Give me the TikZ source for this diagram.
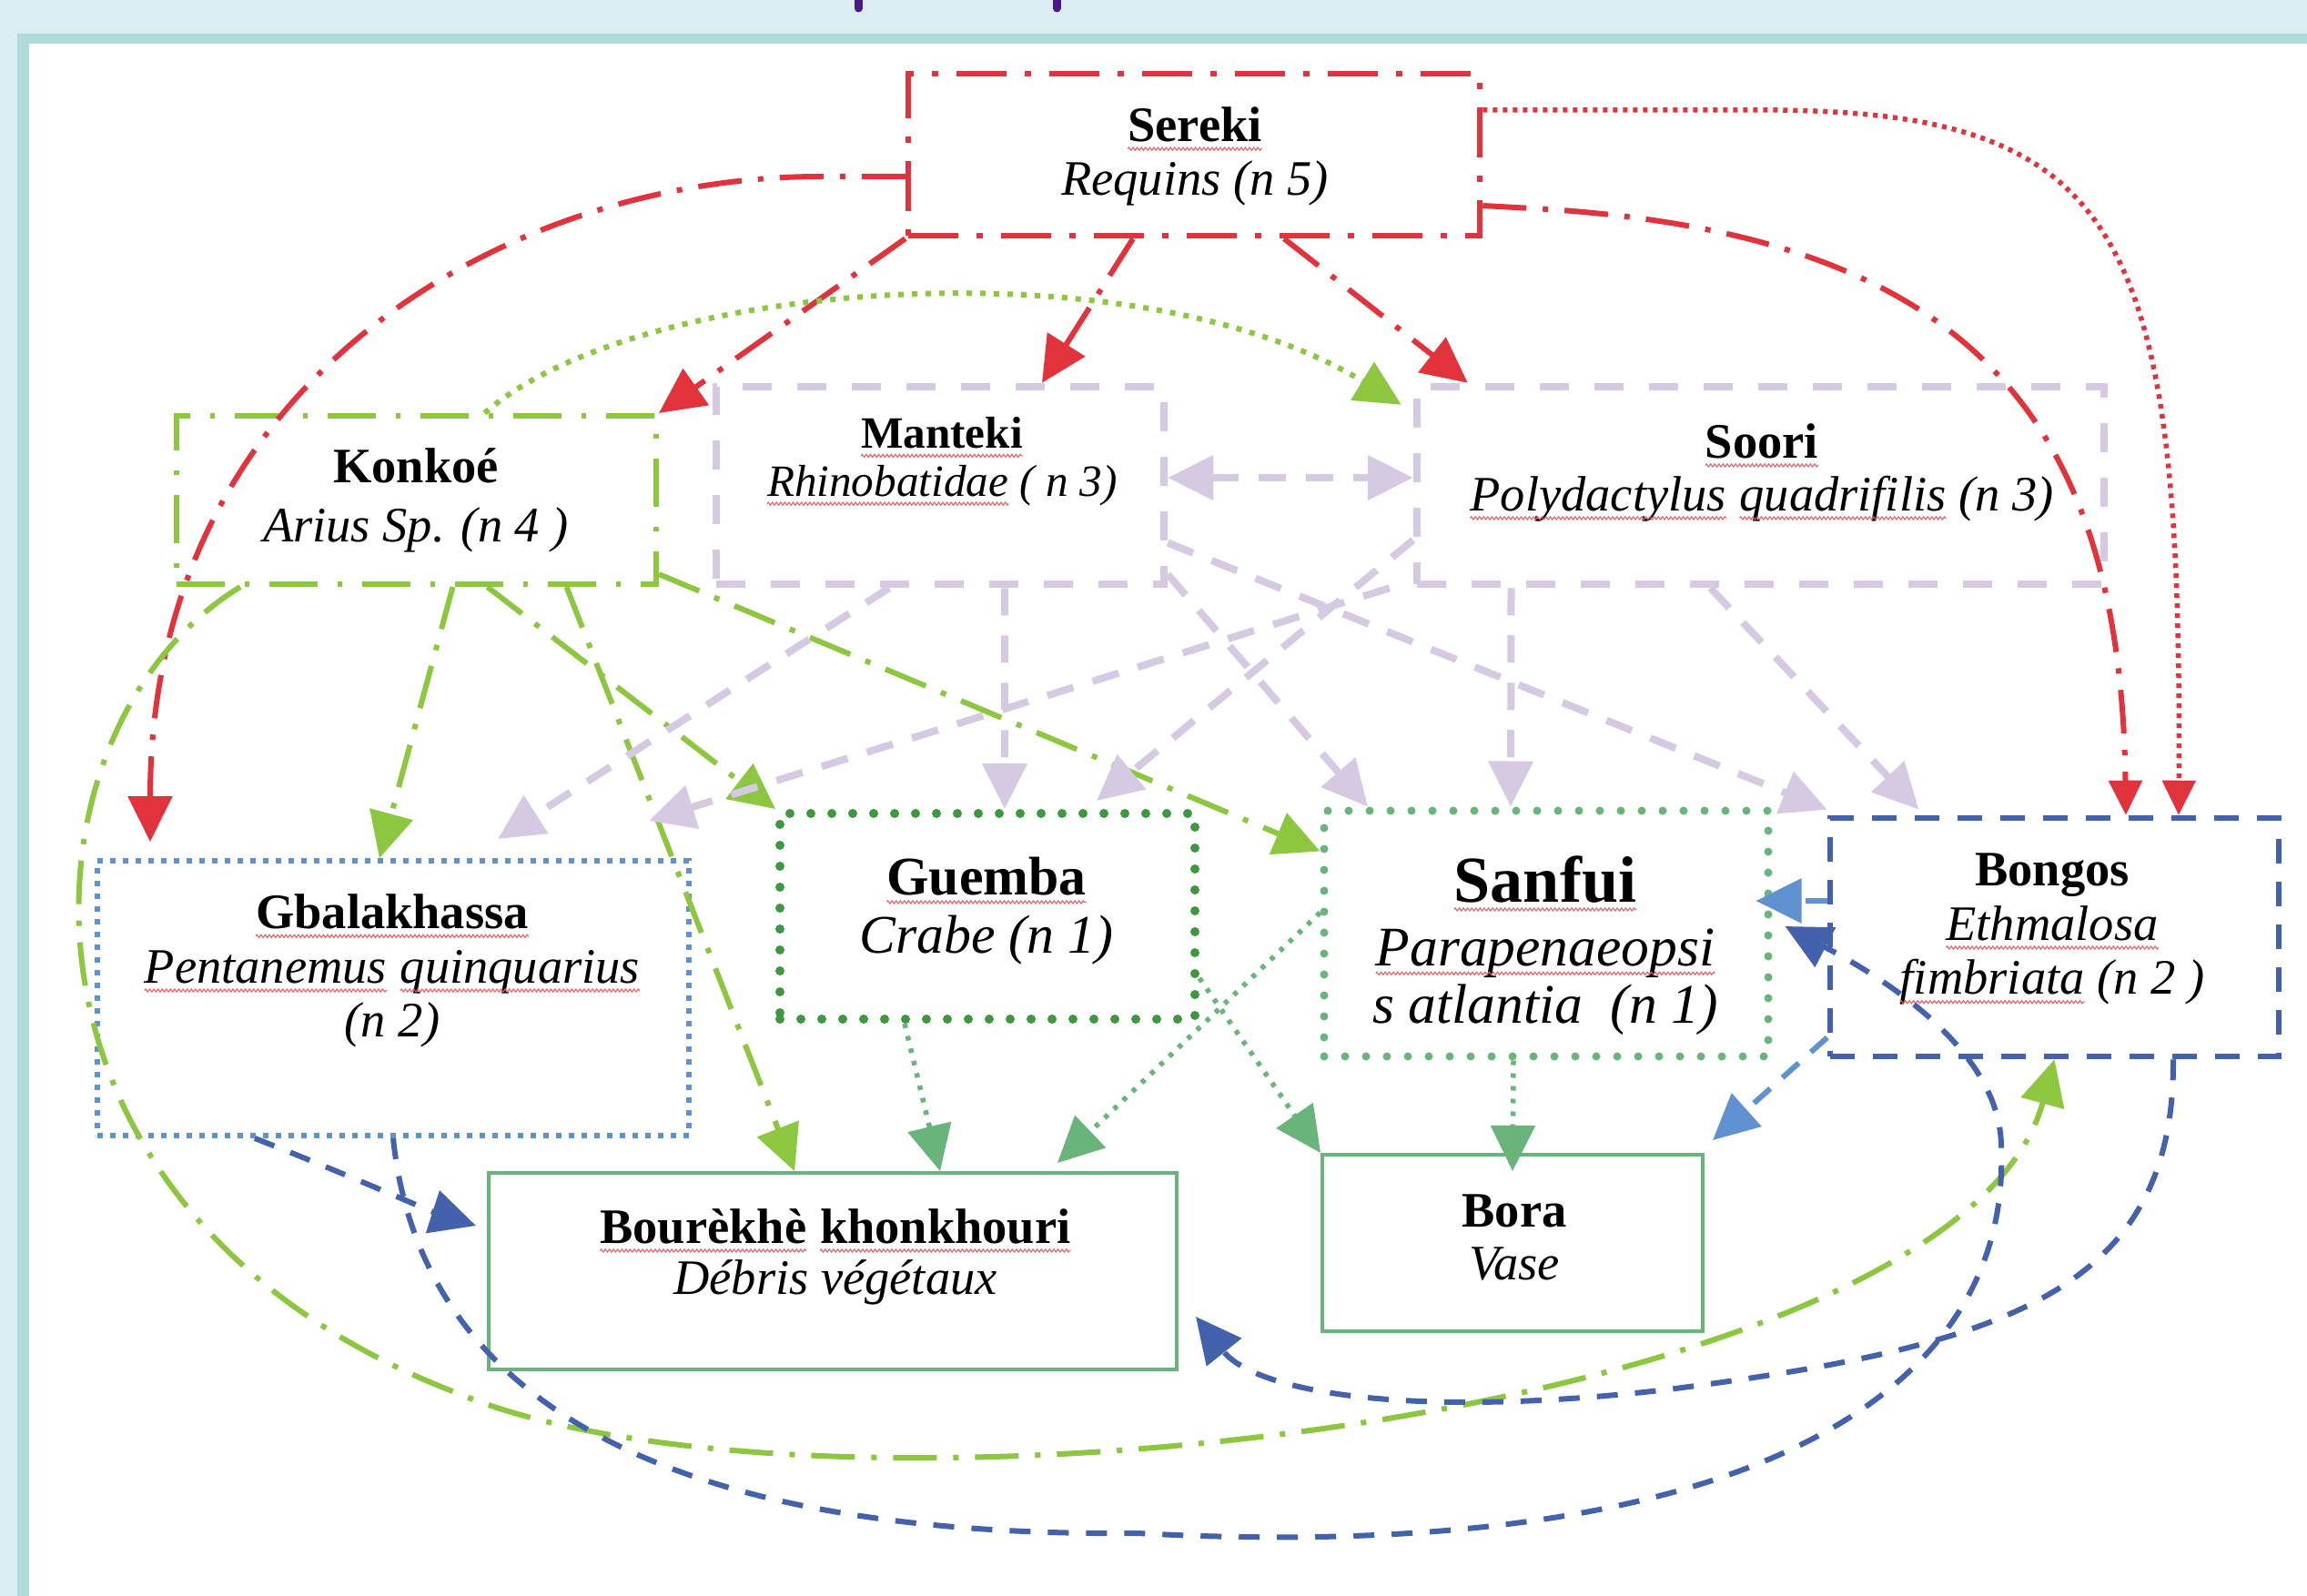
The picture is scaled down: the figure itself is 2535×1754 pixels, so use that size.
\documentclass[tikz,border=0pt]{standalone}
\usepackage{fontspec}
\setmainfont{Liberation Serif}
\usepackage{tikz}
\usetikzlibrary{arrows.meta,decorations.pathmorphing}

\definecolor{sred}{RGB}{226,50,60}
\definecolor{klime}{RGB}{141,198,63}
\definecolor{klilac}{RGB}{214,202,227}
\definecolor{ksky}{RGB}{96,146,210}
\definecolor{knavy}{RGB}{68,97,172}
\definecolor{kmoss}{RGB}{62,152,64}
\definecolor{ksea}{RGB}{104,180,122}
\definecolor{kpale}{RGB}{220,237,242}
\definecolor{kframe}{RGB}{174,219,219}
\definecolor{kink}{RGB}{75,25,135}

\newcommand{\squig}[1]{\tikz[baseline=(w.base)]{\node[font=,align=none,inner sep=0pt,outer sep=0pt] (w) {#1};
		\draw[sred!80,line width=0.3pt,decorate,decoration={zigzag,amplitude=0.45pt,segment length=1.3pt}] ([yshift=-2.4pt]w.base west) -- ([yshift=-2.4pt]w.base east);}}

\begin{document}
\begin{tikzpicture}[x=0.1mm,y=0.1mm,
		box/.style={rectangle,inner sep=0pt},
		redbox/.style={box,draw=sred,line width=0.65mm,dash pattern=on 5.5mm off 2mm on 0.7mm off 2mm},
		limebox/.style={box,draw=klime,line width=0.6mm,dash pattern=on 5.3mm off 2.2mm on 0.5mm off 2.2mm},
		lilacbox/.style={box,draw=klilac,line width=0.85mm,dash pattern=on 3.2mm off 2.8mm},
		skybox/.style={box,draw=ksky,line width=0.6mm,dash pattern=on 0.6mm off 0.8mm},
		mossbox/.style={box,draw=kmoss,line width=1mm,line cap=round,dash pattern=on 0pt off 2.3mm},
		seabox/.style={box,draw=ksea,line width=0.9mm,line cap=round,dash pattern=on 0pt off 2.3mm},
		navybox/.style={box,draw=knavy,line width=0.65mm,dash pattern=on 2.7mm off 2mm},
		plainbox/.style={box,draw=ksea,line width=0.4mm},
		txt/.style={align=center,inner sep=0pt,font=\fontsize{15.5}{17}\selectfont},
		arr/.style={-{Triangle[length=5mm,width=4.8mm]}},
		smallarr/.style={-{Triangle[length=3.8mm,width=3.6mm]}},
		redda/.style={sred,line width=0.6mm,dash pattern=on 4.8mm off 1.8mm on 0.6mm off 1.8mm},
		reddot/.style={sred,line width=0.55mm,dash pattern=on 0.5mm off 0.6mm},
		limeda/.style={klime,line width=0.6mm,dash pattern=on 4.8mm off 1.8mm on 0.6mm off 1.8mm},
		limedot/.style={klime,line width=0.6mm,dash pattern=on 0.6mm off 0.9mm},
		lilac/.style={klilac,line width=0.8mm,dash pattern=on 3mm off 2.2mm},
		seadot/.style={ksea,line width=0.55mm,dash pattern=on 0.5mm off 0.9mm},
		skyda/.style={ksky,line width=0.6mm,dash pattern=on 2.4mm off 1.8mm},
		navyda/.style={knavy,line width=0.6mm,dash pattern=on 2.3mm off 1.9mm}]
	
	\useasboundingbox (0,0) rectangle (2535,-1754);
	\fill[kpale] (0,0) rectangle (2535,-1754);
	\fill[kframe] (19,-37) rectangle (2535,-1754);
	\fill[white] (32,-48) rectangle (2535,-1754);
	\draw[kink,line width=0.9mm,line cap=round] (943,0) -- (943,-9) (1161,0) -- (1161,-9);
	
	% boxes
	\node[redbox,minimum width=62.8mm,minimum height=17.8mm] (sereki) at (1312,-170) {};
	\node[limebox,minimum width=52.7mm,minimum height=18.5mm] (konkoe) at (457.5,-549.5) {};
	\node[lilacbox,minimum width=49.2mm,minimum height=21.7mm] (manteki) at (1033,-533.5) {};
	\node[lilacbox,minimum width=75.5mm,minimum height=21.7mm] (soori) at (1934.5,-533.5) {};
	\node[skybox,minimum width=65mm,minimum height=30.2mm] (gbala) at (432,-1097) {};
	\node[mossbox,minimum width=45.6mm,minimum height=22.6mm] (guemba) at (1085,-1007) {};
	\node[seabox,minimum width=48.8mm,minimum height=27mm] (sanfui) at (1699,-1026) {};
	\node[navybox,minimum width=49.3mm,minimum height=26.2mm] (bongos) at (2257.5,-1030) {};
	\node[plainbox,minimum width=75.6mm,minimum height=21.6mm] (bourekhe) at (915,-1397) {};
	\node[plainbox,minimum width=41.8mm,minimum height=19.4mm] (bora) at (1662,-1366) {};
	
	\node[txt] (sereki-t) at (1313,-172) {\textbf{\squig{Sereki}}\\\textit{Requins (n 5)}};
	\node[txt,font=\fontsize{15.5}{18.4}\selectfont] (konkoe-t) at (457,-550) {\textbf{Konkoé}\\\textit{Arius Sp. (n 4 )}};
	\node[txt,font=\fontsize{14}{15}\selectfont] (manteki-t) at (1035,-507) {\textbf{\squig{Manteki}}\\\textit{\squig{Rhinobatidae} ( n 3)}};
	\node[txt,font=\fontsize{15.5}{16.5}\selectfont] (soori-t) at (1936,-519) {\textbf{\squig{Soori}}\\\textit{\squig{Polydactylus} \squig{quadrifilis} (n 3)}};
	\node[txt] (gbala-t) at (431,-1067) {\textbf{\squig{Gbalakhassa}}\\\textit{\squig{Pentanemus} \squig{quinquarius}}\\\textit{(n 2)}};
	\node[txt,font=\fontsize{17}{18.4}\selectfont] (guemba-t) at (1084,-1001) {\textbf{\squig{Guemba}}\\\textit{Crabe (n 1)}};
	\node[txt,font=\fontsize{17.5}{18}\selectfont] (sanfui-t) at (1698,-1039) {{\fontsize{20.5}{22}\selectfont\textbf{\squig{Sanfui}}}\\[2pt]\textit{\squig{Parapenaeopsi}}\\\textit{s atlantia\ \ (n 1)}};
	\node[txt] (bongos-t) at (2255,-1021) {\textbf{Bongos}\\\textit{\squig{Ethmalosa}}\\\textit{\squig{fimbriata} (n 2 )}};
	\node[txt,font=\fontsize{15.5}{16}\selectfont] (bourekhe-t) at (918,-1381) {\textbf{\squig{Bourèkhè} \squig{khonkhouri}}\\\textit{Débris végétaux}};
	\node[txt,font=\fontsize{15.5}{16.5}\selectfont] (bora-t) at (1664,-1360) {\textbf{Bora}\\\textit{Vase}};
	
	% Sereki
	\draw[redda,arr] ([yshift=-2.4mm]sereki.west) -- ++(-93,0) .. controls +(-345,0) and +(0,508) .. ([xshift=-26.7mm,yshift=1.8mm]gbala.north);
	\draw[redda,arr] (sereki.south west) -- (konkoe.north east);
	\draw[redda,arr] ([xshift=-6.7mm]sereki.south) -- ([xshift=11.2mm]manteki.north);
	\draw[redda,arr] ([xshift=9.9mm]sereki.south) -- ([xshift=6mm]soori.north west);
	\draw[redda,smallarr] ([yshift=-5.6mm]sereki.east) -- ++(72,-4) .. controls +(452,-30) and +(-6,447) .. ([xshift=7.85mm]bongos.north);
	\draw[reddot,smallarr] ([yshift=4.9mm]sereki.east) -- ++(324,0) .. controls +(380,-4) and +(4,637) .. ([xshift=13.65mm]bongos.north);
	
	% Konkoe
	\draw[limedot,arr] ([xshift=7.5mm]konkoe.north) .. controls +(167,147) and +(-294,179) .. ([xshift=-1.3mm,yshift=-2.4mm]soori.north west);
	\draw[limeda,arr] ([xshift=4mm]konkoe.south) -- ([xshift=-1.5mm]gbala.north);
	\draw[limeda,arr] ([xshift=7.8mm]konkoe.south) -- (guemba.north west);
	\draw[limeda,arr] ([xshift=16.5mm]konkoe.south) -- ([xshift=-4.2mm]bourekhe.north);
	\draw[limeda,arr] ([yshift=1.4mm]konkoe.south east) -- ([yshift=-4.9mm]sanfui.north west);
	\draw[limeda,arr] ([xshift=7.3mm]konkoe.south west) .. controls (10,-800) and (-20,-1330) .. (500,-1530) .. controls (900,-1700) and (2150,-1560) .. (bongos.south);
	
	% Manteki, Soori
	\draw[lilac,{Triangle[length=5mm,width=4.8mm]}-{Triangle[length=5mm,width=4.8mm]}] ([yshift=0.85mm]manteki.east) -- ([yshift=0.85mm]soori.west);
	\draw[lilac,arr] ([xshift=-5.6mm]manteki.south) -- ([xshift=11.5mm,yshift=2.1mm]gbala.north);
	\draw[lilac,arr] ([xshift=7.1mm]manteki.south) -- ([xshift=1.9mm]guemba.north);
	\draw[lilac,arr] ([yshift=1.5mm]manteki.south east) -- ([xshift=-19.6mm]sanfui.north);
	\draw[lilac,arr] ([yshift=-6.3mm]manteki.east) -- ([yshift=0.6mm]bongos.north west);
	\draw[lilac,arr] ([yshift=-6mm]soori.west) -- ([xshift=12mm,yshift=0.9mm]guemba.north);
	\draw[lilac,arr] ([xshift=-2.6mm]soori.south west) -- ([xshift=-4.7mm,yshift=4.1mm]gbala.north east);
	\draw[lilac,arr] ([xshift=-27.4mm]soori.south) -- ([xshift=-3.9mm]sanfui.north);
	\draw[lilac,arr] ([xshift=-5.5mm]soori.south) -- ([xshift=-14.9mm,yshift=0.6mm]bongos.north);
	
	% Guemba, Sanfui
	\draw[seadot,arr] ([xshift=-9.1mm]guemba.south) -- ([xshift=11.8mm]bourekhe.north);
	\draw[seadot,arr] ([yshift=5mm]guemba.south east) -- (bora.north west);
	\draw[seadot,arr] ([yshift=2.3mm]sanfui.west) -- ([xshift=-13.3mm,yshift=0.9mm]bourekhe.north east);
	\draw[seadot,arr] ([xshift=-3.6mm]sanfui.south) -- ([yshift=-2mm]bora.north);
	
	% Bongos, Gbalakhassa
	\draw[skyda,arr] ([yshift=4mm]bongos.west) -- ([xshift=-1.8mm,yshift=3.6mm]sanfui.east);
	\draw[skyda,arr] ([yshift=2.4mm]bongos.south west) -- ([xshift=0.9mm,yshift=1.4mm]bora.north east);
	\draw[navyda,arr] ([xshift=13.05mm]bongos.south) .. controls (2390,-1420) and (2200,-1480) .. (1833,-1527) .. controls (1550,-1560) and (1380,-1530) .. ([xshift=1.9mm,yshift=-5mm]bourekhe.east);
	\draw[navyda,arr] (gbala.south) .. controls (460,-1520) and (700,-1690) .. (1250,-1685) .. controls (1900,-1720) and (2210,-1540) .. (2199,-1262) .. controls (2200,-1160) and (2080,-1080) .. ([xshift=1.4mm,yshift=0.8mm]sanfui.east);
	\draw[navyda,arr] ([xshift=17.6mm]gbala.south west) .. controls (380,-1290) and (470,-1330) .. ([xshift=-1.2mm,yshift=-6mm]bourekhe.north west);
\end{tikzpicture}
\end{document}
